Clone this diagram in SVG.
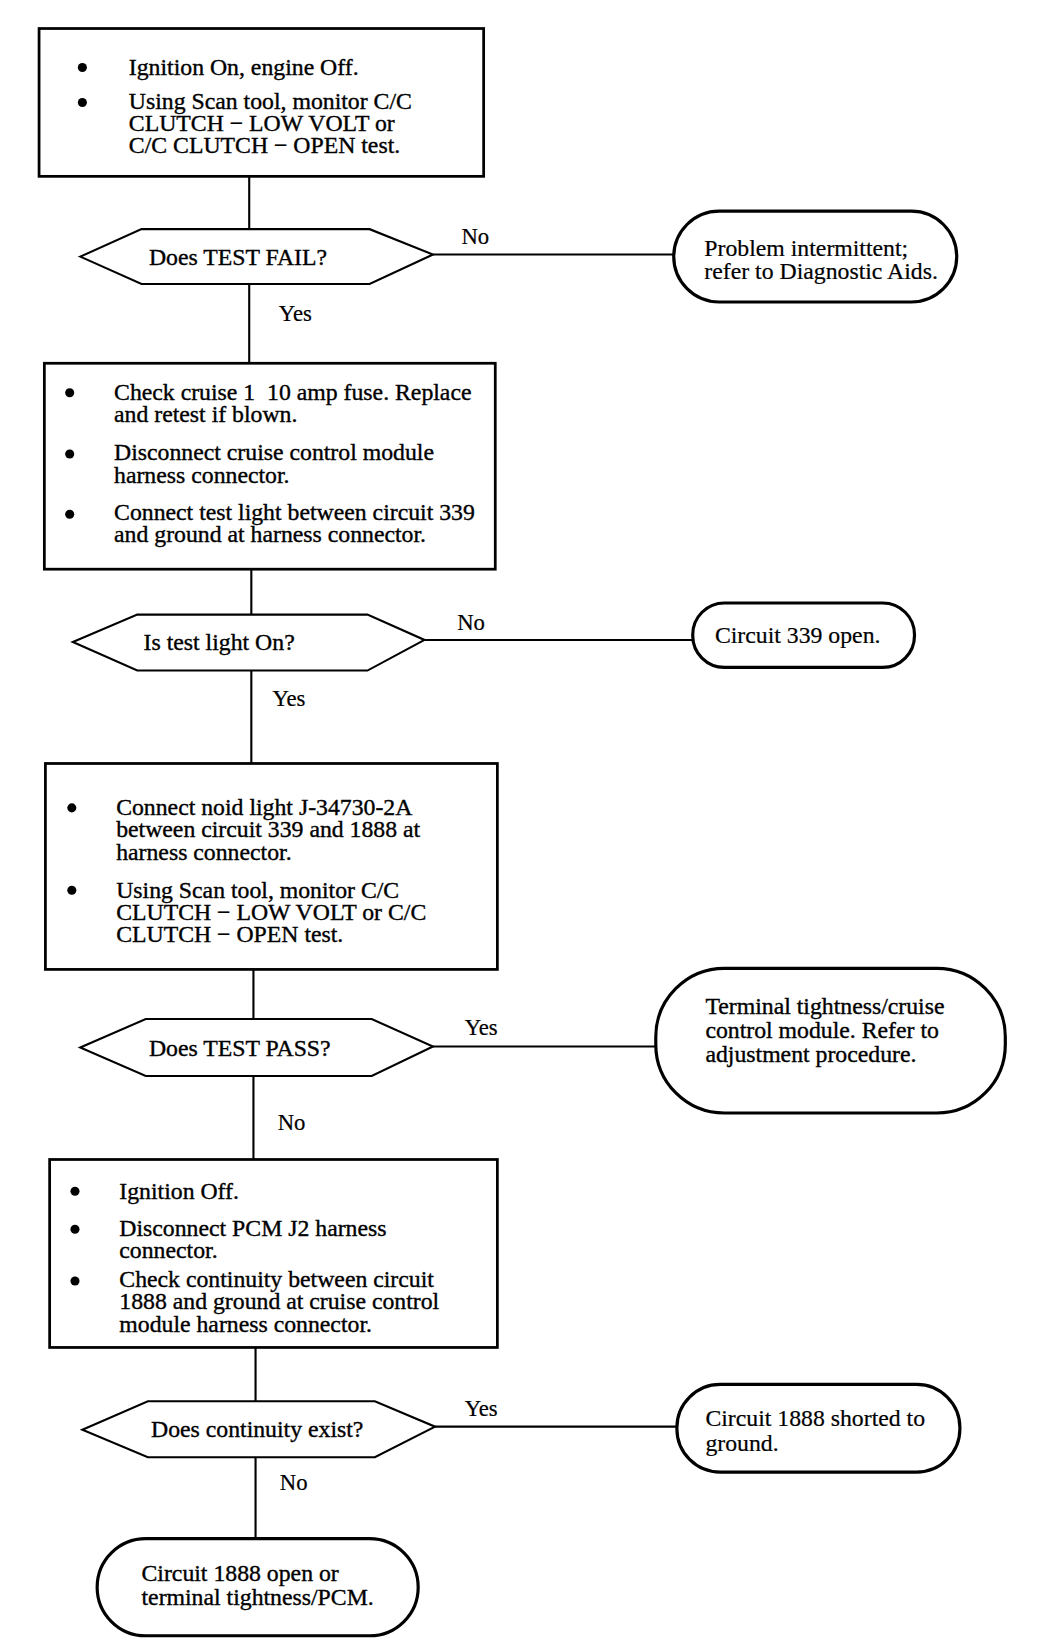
<svg xmlns="http://www.w3.org/2000/svg" width="1056" height="1652" viewBox="0 0 1056 1652">
<style>
.box{fill:#fff;stroke:#000;stroke-width:2.6}
.dec{fill:#fff;stroke:#000;stroke-width:2}
.term{fill:#fff;stroke:#000;stroke-width:3}
.ln{stroke:#000;stroke-width:2;fill:none}
.t{font-family:"Liberation Serif","Times New Roman",serif;font-size:22.5px;fill:#000;stroke:#000;stroke-width:0.35}
.tt{font-family:"Liberation Serif","Times New Roman",serif;font-size:22.5px;fill:#000;stroke:#000;stroke-width:0.2}
.lb{font-family:"Liberation Serif","Times New Roman",serif;font-size:21.5px;fill:#000;stroke:#000;stroke-width:0.2}
</style>
<rect width="1056" height="1652" fill="#fff"/>
<g transform="scale(1.056)">
<g id="connectors">
<line class="ln" x1="236" y1="167" x2="236" y2="217"/>
<line class="ln" x1="410" y1="241" x2="639" y2="241"/>
<line class="ln" x1="236" y1="269" x2="236" y2="344"/>
<line class="ln" x1="238" y1="539" x2="238" y2="582"/>
<line class="ln" x1="402" y1="606" x2="656" y2="606"/>
<line class="ln" x1="238" y1="635" x2="238" y2="723"/>
<line class="ln" x1="240" y1="918" x2="240" y2="965"/>
<line class="ln" x1="410" y1="991" x2="622" y2="991"/>
<line class="ln" x1="240" y1="1019" x2="240" y2="1098"/>
<line class="ln" x1="242" y1="1276" x2="242" y2="1327"/>
<line class="ln" x1="412" y1="1351" x2="642" y2="1351"/>
<line class="ln" x1="242" y1="1380" x2="242" y2="1457"/>
<text class="lb" x="437" y="231">No</text>
<text class="lb" x="264" y="304">Yes</text>
<text class="lb" x="433" y="597">No</text>
<text class="lb" x="258" y="669">Yes</text>
<text class="lb" x="440" y="980">Yes</text>
<text class="lb" x="263" y="1070">No</text>
<text class="lb" x="440" y="1341">Yes</text>
<text class="lb" x="265" y="1411">No</text>
</g>
<g id="box1">
<rect class="box" x="37" y="27" width="421" height="140"/>
<circle cx="78" cy="64" r="4.3"/><circle cx="78" cy="97" r="4.3"/>
<text class="t" x="122" y="71">Ignition On, engine Off.</text>
<text class="t" x="122" y="103">Using Scan tool, monitor C/C</text>
<text class="t" x="122" y="124">CLUTCH − LOW VOLT or</text>
<text class="t" x="122" y="145">C/C CLUTCH − OPEN test.</text>
</g>
<g id="dec1">
<polygon class="dec" points="76,243 134,217 350,217 410,241 350,269 134,269"/>
<text class="t" x="141" y="251">Does TEST FAIL?</text>
</g>
<g id="term1">
<rect class="term" x="638" y="200" width="268" height="86" rx="43"/>
<text class="tt" x="667" y="242">Problem intermittent;</text>
<text class="tt" x="667" y="264">refer to Diagnostic Aids.</text>
</g>
<g id="box2">
<rect class="box" x="42" y="344" width="427" height="195"/>
<circle cx="66" cy="372" r="4.3"/><circle cx="66" cy="430" r="4.3"/><circle cx="66" cy="487" r="4.3"/>
<text class="t" x="108" y="379" style="white-space:pre">Check cruise 1  10 amp fuse. Replace</text>
<text class="t" x="108" y="400">and retest if blown.</text>
<text class="t" x="108" y="436">Disconnect cruise control module</text>
<text class="t" x="108" y="457">harness connector.</text>
<text class="t" x="108" y="492">Connect test light between circuit 339</text>
<text class="t" x="108" y="513">and ground at harness connector.</text>
</g>
<g id="dec2">
<polygon class="dec" points="69,608 130,582 348,582 402,606 348,635 130,635"/>
<text class="t" x="136" y="616">Is test light On?</text>
</g>
<g id="term2">
<rect class="term" x="656" y="571" width="210" height="61" rx="30"/>
<text class="tt" x="677" y="609">Circuit 339 open.</text>
</g>
<g id="box3">
<rect class="box" x="43" y="723" width="428" height="195"/>
<circle cx="68" cy="765" r="4.3"/><circle cx="68" cy="843" r="4.3"/>
<text class="t" x="110" y="772">Connect noid light J-34730-2A</text>
<text class="t" x="110" y="793">between circuit 339 and 1888 at</text>
<text class="t" x="110" y="814">harness connector.</text>
<text class="t" x="110" y="850">Using Scan tool, monitor C/C</text>
<text class="t" x="110" y="871">CLUTCH − LOW VOLT or C/C</text>
<text class="t" x="110" y="892">CLUTCH − OPEN test.</text>
</g>
<g id="dec3">
<polygon class="dec" points="76,992 138,965 352,965 410,991 352,1019 138,1019"/>
<text class="t" x="141" y="1000">Does TEST PASS?</text>
</g>
<g id="term3">
<rect class="term" x="621" y="917" width="331" height="137" rx="65"/>
<text class="t" x="668" y="960">Terminal tightness/cruise</text>
<text class="t" x="668" y="983">control module. Refer to</text>
<text class="t" x="668" y="1006">adjustment procedure.</text>
</g>
<g id="box4">
<rect class="box" x="47" y="1098" width="424" height="178"/>
<circle cx="71" cy="1128" r="4.3"/><circle cx="71" cy="1164" r="4.3"/><circle cx="71" cy="1213" r="4.3"/>
<text class="t" x="113" y="1135">Ignition Off.</text>
<text class="t" x="113" y="1170">Disconnect PCM J2 harness</text>
<text class="t" x="113" y="1191">connector.</text>
<text class="t" x="113" y="1219">Check continuity between circuit</text>
<text class="t" x="113" y="1240">1888 and ground at cruise control</text>
<text class="t" x="113" y="1261">module harness connector.</text>
</g>
<g id="dec4">
<polygon class="dec" points="78,1354 140,1327 355,1327 412,1351 355,1380 140,1380"/>
<text class="t" x="143" y="1361">Does continuity exist?</text>
</g>
<g id="term4">
<rect class="term" x="641" y="1311" width="268" height="83" rx="41"/>
<text class="tt" x="668" y="1350">Circuit 1888 shorted to</text>
<text class="tt" x="668" y="1374">ground.</text>
</g>
<g id="term5">
<rect class="term" x="92" y="1457" width="304" height="92" rx="46"/>
<text class="t" x="134" y="1497">Circuit 1888 open or</text>
<text class="t" x="134" y="1520">terminal tightness/PCM.</text>
</g>
</g>
</svg>
